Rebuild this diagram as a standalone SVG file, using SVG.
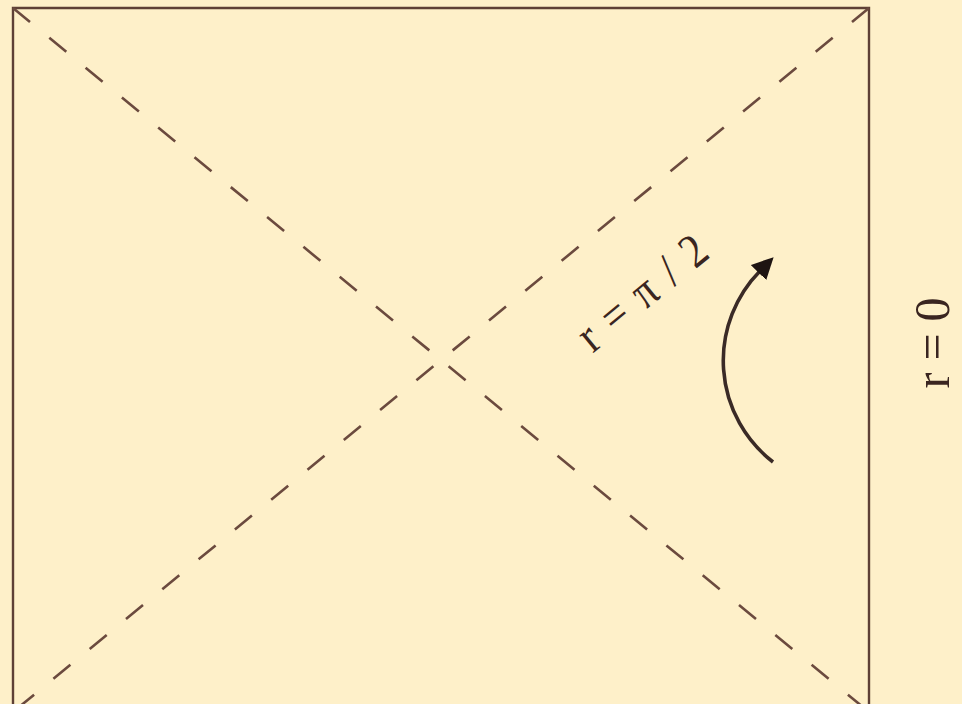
<svg xmlns="http://www.w3.org/2000/svg" width="962" height="704" viewBox="0 0 962 704">
<style>
.frame{fill:none;stroke:#5e4036;stroke-width:2.4}
.dash{fill:none;stroke:#6b4a3e;stroke-width:2.6;stroke-dasharray:22 25}
.lbl{font-family:"Liberation Serif","DejaVu Serif",serif;fill:#3a2520}
.arr{fill:none;stroke:#3a2a26;stroke-width:3.6}
</style>
<defs>
<marker id="ah" viewBox="0 0 10 10" refX="1" refY="5" markerWidth="6" markerHeight="6" markerUnits="strokeWidth" orient="auto">
<path d="M0,0 L10,5 L0,10 z" fill="#1e1412"/>
</marker>
</defs>
<rect width="962" height="704" fill="#fef0c9"/>
<g id="frame"><path class="frame" d="M13,712 L13,8 L869,8 L869,712"/></g>
<g id="connectors">
<path class="dash" d="M13,8 L869,712"/>
<path class="dash" d="M869,8 L13,712"/>
<path class="arr" d="M773,462 A128,128 0 0 1 760,271" marker-end="url(#ah)"/>
</g>
<g id="label-horizon"><text class="lbl" font-size="42" letter-spacing="2.5" transform="translate(653,304) rotate(-39.4) scale(1,1.15)" text-anchor="middle">r = π / 2</text></g>
<g id="label-r0"><text class="lbl" font-size="48" transform="translate(949,343) rotate(-90) scale(1,1.05)" text-anchor="middle">r = 0</text></g>
</svg>
